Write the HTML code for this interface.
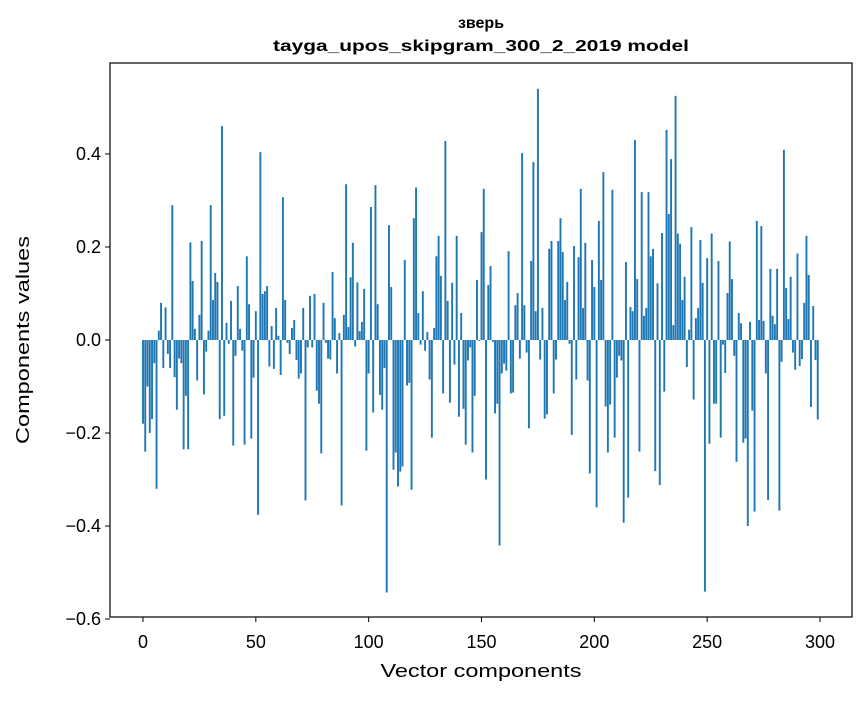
<!DOCTYPE html>
<html><head><meta charset="utf-8"><style>
body{margin:0;background:#fff;font-family:"Liberation Sans",sans-serif;}
svg text{font-family:"Liberation Sans","DejaVu Sans",sans-serif;}
</style></head><body>
<svg id="chart" width="867" height="696" xmlns="http://www.w3.org/2000/svg">
<rect width="867" height="696" fill="#fff"/>
<text x="481" y="28" text-anchor="middle" font-size="16" font-weight="bold">зверь</text>
<text x="481" y="51" text-anchor="middle" font-size="16" font-weight="bold" textLength="416" lengthAdjust="spacingAndGlyphs">tayga_upos_skipgram_300_2_2019 model</text>
<g id="bars"></g>
<g id="axes"></g>
<text x="481" y="677" text-anchor="middle" font-size="18" textLength="201" lengthAdjust="spacingAndGlyphs">Vector components</text>
<text transform="translate(29,340) rotate(-90)" text-anchor="middle" font-size="18" textLength="208" lengthAdjust="spacingAndGlyphs">Components values</text>
</svg>
<script>
const values = [-0.18,-0.24,-0.10,-0.20,-0.17,-0.05,-0.32,0.02,0.08,-0.06,0.07,-0.03,-0.06,0.29,-0.08,-0.15,-0.04,-0.05,-0.235,-0.12,
-0.235,0.21,0.127,0.024,-0.087,0.054,0.213,-0.117,-0.025,0.02,0.29,0.086,0.144,0.125,-0.17,0.46,-0.163,0.037,-0.008,0.084,
-0.227,-0.034,0.116,0.024,-0.023,-0.225,0.18,0.077,-0.212,-0.081,0.062,-0.376,0.404,0.099,0.105,0.116,-0.057,0.03,-0.062,0.069,
0.009,-0.075,0.307,0.086,-0.006,-0.03,0.026,0.043,-0.043,-0.083,-0.072,0.069,-0.345,-0.016,0.095,-0.016,0.099,-0.109,-0.137,-0.244,
0.08,-0.006,-0.04,-0.042,0.146,0.047,-0.072,0.015,-0.356,0.054,0.335,0.028,0.135,0.209,-0.014,0.124,0.019,0.039,0.11,-0.238,
-0.072,0.286,-0.156,0.333,0.077,-0.118,-0.15,-0.06,-0.543,0.247,0.114,-0.279,-0.242,-0.315,-0.283,-0.272,0.172,-0.098,-0.092,-0.322,
0.262,0.328,0.058,-0.01,0.105,-0.023,0.017,-0.085,-0.21,0.026,0.18,0.224,0.138,-0.115,0.428,0.084,-0.135,0.123,-0.053,0.224,
-0.165,0.058,-0.148,-0.225,-0.044,-0.016,-0.242,-0.12,0.129,-0.002,0.232,0.325,-0.3,0.118,0.159,-0.004,-0.158,-0.137,-0.442,-0.072,
-0.051,-0.066,0.191,-0.115,-0.113,0.075,0.101,-0.04,0.402,0.075,-0.027,-0.19,0.17,0.383,0.062,0.54,-0.042,0.069,-0.169,-0.16,
0.196,0.213,-0.115,-0.042,0.213,0.262,0.189,0.086,0.125,-0.008,-0.204,0.202,-0.085,0.178,0.325,0.069,0.209,-0.087,-0.287,0.172,
0.114,-0.36,0.256,0.129,0.361,-0.143,-0.242,-0.139,0.323,-0.21,-0.081,-0.034,-0.044,-0.393,0.168,-0.339,0.071,0.062,0.43,0.131,
-0.24,0.318,0.052,0.069,0.318,0.18,0.196,-0.282,0.122,-0.312,0.23,-0.111,0.452,0.271,0.389,0.032,0.525,0.229,0.207,0.086,
0.136,-0.058,0.022,0.243,-0.128,0.047,0.069,0.215,0.123,-0.541,0.176,-0.223,0.229,-0.137,-0.137,0.17,-0.21,-0.01,-0.071,0.101,
0.212,0.131,-0.034,-0.262,0.058,0.036,-0.221,-0.212,-0.4,0.039,-0.152,-0.369,0.256,0.043,0.245,0.041,-0.072,-0.344,0.153,0.052,
0.034,0.153,-0.367,-0.047,0.409,0.112,0.045,0.136,-0.027,-0.064,0.186,-0.056,-0.041,0.08,0.224,0.14,-0.144,0.073,-0.043,-0.171];
const xTicks = [0,50,100,150,200,250,300];
const yTicks = [-0.6,-0.4,-0.2,0.0,0.2,0.4];

const NS='http://www.w3.org/2000/svg';
const L=110,R=852,T=63,B=617;
const xs = i => 143 + i*(820-143)/300;
const ys = v => 340 - v*465;
const bw = 0.85*(820-143)/300;
const bars=document.getElementById('bars');
values.forEach((v,i)=>{
  const r=document.createElementNS(NS,'rect');
  
  
  const y0=ys(0), y1=ys(v);
  r.setAttribute('x',xs(i)-bw/2);
  r.setAttribute('y',Math.min(y0,y1));
  r.setAttribute('width',bw);
  r.setAttribute('height',Math.max(Math.abs(y1-y0),0.3));
  r.setAttribute('fill','#1f77b4');
  bars.appendChild(r);
});
const ax=document.getElementById('axes');
function el(tag,attrs,txt){const e=document.createElementNS(NS,tag);for(const k in attrs)e.setAttribute(k,attrs[k]);if(txt!=null)e.textContent=txt;ax.appendChild(e);return e;}
const frame=el('rect',{x:L,y:T,width:R-L,height:B-T,fill:'none',stroke:'#000','stroke-width':1.2});


xTicks.forEach(t=>{
  const x=xs(t);
  const ln=el('line',{x1:x,x2:x,y1:B,y2:B+5,stroke:'#000','stroke-width':1});
  
  
  const tx=el('text',{x:x,y:B+31,'text-anchor':'middle','font-size':18},String(t));
  
  
});
yTicks.forEach(t=>{
  const y=ys(t);
  const ln=el('line',{x1:L-5,x2:L,y1:y,y2:y,stroke:'#000','stroke-width':1});
  
  
  const s=(t<0?'\u2212':'')+Math.abs(t).toFixed(1);
  const tx=el('text',{x:L-9,y:y+6,'text-anchor':'end','font-size':18},s);
  
  
});
</script>
</body></html>
